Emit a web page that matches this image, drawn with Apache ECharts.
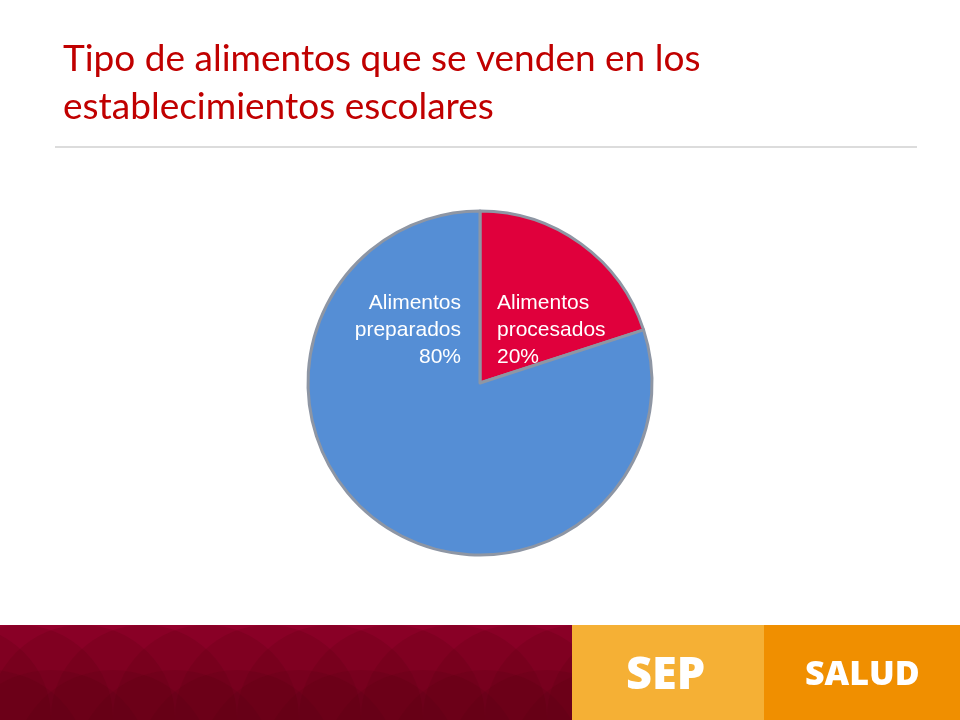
<!DOCTYPE html>
<html><head><meta charset="utf-8">
<script src="https://cdn.jsdelivr.net/npm/echarts@6/dist/echarts.min.js"></script>
<style>html,body{margin:0;padding:0;background:#fff}#c{width:960px;height:720px}</style>
</head><body><div id="c"></div>
<script>
const titleLines = ['Tipo de alimentos que se venden en los', 'establecimientos escolares'];
const categories = ['Alimentos\nprocesados', 'Alimentos\npreparados'];
const values = [20, 80];
const sliceColors = ['#E0003C', '#558ED5'];
const footerLabels = ['SEP', 'SALUD'];

const chart = echarts.init(document.getElementById('c'));
const circles = [];
for (let i = -1; i < 11; i++) {
  circles.push({type:'circle', z:1, silent:true, shape:{cx: i*62 + 20, cy: 718, r: 93}, style:{fill:'rgba(80,0,15,0.16)'}});
  circles.push({type:'circle', z:1, silent:true, shape:{cx: i*62 + 51, cy: 770, r: 100}, style:{fill:'rgba(80,0,15,0.14)'}});
}
chart.setOption({
  backgroundColor: '#ffffff',
  animation: false,
  title: {
    text: titleLines.join('\n'),
    left: 58, top: 30,
    textStyle: {color:'#C00000', fontFamily:'Lato', fontSize:37, fontWeight:'normal', lineHeight:48}
  },
  graphic: [
    {type:'rect', z:0, silent:true, shape:{x:55, y:146, width:862, height:2}, style:{fill:'#DCDCDC'}},
    {type:'rect', z:0, silent:true, shape:{x:0, y:625, width:572, height:95}, style:{fill:'#94002C'}},
    ...circles,
    {type:'rect', z:2, silent:true, shape:{x:572, y:625, width:192, height:95}, style:{fill:'#F5B035'}},
    {type:'rect', z:2, silent:true, shape:{x:764, y:625, width:196, height:95}, style:{fill:'#F08F00'}},
    {type:'text', z:3, silent:true, left:626, top:654, style:{text:footerLabels[0], fill:'#fff', font:'900 45px "Open Sans"'}},
    {type:'text', z:3, silent:true, left:805, top:658, style:{text:footerLabels[1], fill:'#fff', font:'800 34px "Open Sans"'}}
  ],
  series: [{
    type: 'pie',
    center: [480, 383],
    radius: [0, 172],
    startAngle: 90,
    clockwise: true,
    itemStyle: {borderColor:'#8E96A4', borderWidth:3},
    data: categories.map((c, i) => ({name:c, value:values[i], itemStyle:{color:sliceColors[i]}})),
    label: {
      show: true, position: 'inside',
      formatter: p => p.name + '\n' + p.value + '%',
      color: '#fff', fontFamily: 'Liberation Sans', fontSize: 21, lineHeight: 27
    },
    labelLine: {show:false},
    labelLayout: params => params.dataIndex === 0
      ? {x: 497, y: 330, align: 'left', verticalAlign: 'middle'}
      : {x: 461, y: 330, align: 'right', verticalAlign: 'middle'}
  }]
});
</script></body></html>
